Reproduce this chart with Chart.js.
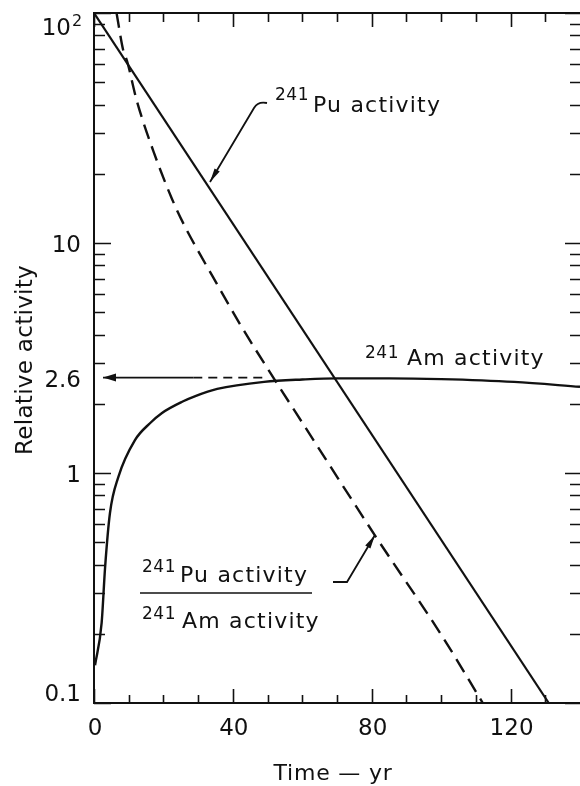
<!DOCTYPE html>
<html>
<head>
<meta charset="utf-8">
<script src="https://cdn.jsdelivr.net/npm/chart.js@4"></script>
<style>
    html,body{margin:0;padding:0;background:#fff;}
    #wrap{width:580px;height:786px;position:relative;}
</style>
</head>
<body>
<div id="wrap"><canvas id="decayChart"></canvas></div>
<script>

// values (time in years, relative activity)
const puYears = [0, 131];
const puActivity = [100, 0.1];

const ratioYears = [6.5, 8.4, 9.5, 12.3, 17.1, 22.5, 26.3, 30.6, 35.5, 42.2, 52.3, 60.4, 81.2, 100.5, 112];
const ratioValues = [100, 69, 62, 41.7, 25.1, 15.5, 11.7, 8.9, 6.6, 4.4, 2.51, 1.62, 0.528, 0.193, 0.1];

const amYears = [0.3, 2.2, 3.2, 4.6, 7, 11.8, 16.2, 19.5, 25.7, 29.2, 35.5, 49, 60, 70, 85, 100, 121, 140];
const amActivity = [0.146, 0.223, 0.39, 0.67, 0.96, 1.39, 1.65, 1.82, 2.05, 2.16, 2.32, 2.49, 2.55, 2.58, 2.58, 2.56, 2.49, 2.37];

const equilibriumLevel = 2.6;
const arrowSolidYears = [2.6, 28.6];
const arrowDashYears = [28.6, 49];

const xMajorTicks = [0, 40, 80, 120];
const xMinorTicks = [10, 20, 30, 50, 60, 70, 90, 100, 110, 130];
const xTickLabels = ["0", "40", "80", "120"];

const yMajorTicks = [0.1, 1, 10, 100];
const yMinorTicks = [0.2, 0.3, 0.4, 0.5, 0.6, 0.7, 0.8, 0.9, 2, 3, 4, 5, 6, 7, 8, 9, 20, 30, 40, 50, 60, 70, 80, 90];
const yLabelValues = [0.1, 1, 2.6, 10, 100];
const yTickLabels = ["0.1", "1", "2.6", "10", "10"];

const INK = "#111";
const FONT = "'DejaVu Sans'";

function toPoints(xs, ys){

    return xs.map((x, i)=>({x:x, y:ys[i]}));

}

function arrowHead(ctx, tipX, tipY, fromX, fromY, len, half){

    const a = Math.atan2(tipY - fromY, tipX - fromX);

    ctx.beginPath();
    ctx.moveTo(tipX, tipY);
    ctx.lineTo(tipX - len*Math.cos(a) + half*Math.sin(a), tipY - len*Math.sin(a) - half*Math.cos(a));
    ctx.lineTo(tipX - len*Math.cos(a) - half*Math.sin(a), tipY - len*Math.sin(a) + half*Math.cos(a));
    ctx.closePath();
    ctx.fill();

}

function isotope(ctx, supX, supY, mainX, mainY, text){

    ctx.textAlign = "left";
    ctx.textBaseline = "alphabetic";
    ctx.letterSpacing = "0.5px";
    ctx.font = "17px " + FONT;
    ctx.fillText("241", supX, supY);
    ctx.letterSpacing = "1.2px";
    ctx.font = "22px " + FONT;
    ctx.fillText(text, mainX, mainY);

}

const framePlugin = {

    id:"frame",

    afterDatasetsDraw(chart){

        const ctx = chart.ctx;
        const area = chart.chartArea;
        const xs = chart.scales.x;
        const ys = chart.scales.y;

        ctx.save();
        ctx.strokeStyle = INK;
        ctx.fillStyle = INK;

        // frame
        ctx.lineWidth = 2;
        ctx.beginPath();
        ctx.moveTo(area.right + 1, area.top);
        ctx.lineTo(area.left, area.top);
        ctx.lineTo(area.left, area.bottom);
        ctx.lineTo(area.right + 1, area.bottom);
        ctx.stroke();

        // inward ticks
        ctx.lineWidth = 1.6;
        ctx.beginPath();

        xMajorTicks.concat(xMinorTicks).forEach(v=>{

            const major = xMajorTicks.includes(v);
            const px = Math.round(xs.getPixelForValue(v)) + 0.5;

            ctx.moveTo(px, area.bottom);
            ctx.lineTo(px, area.bottom - (major ? 14 : 8));
            ctx.moveTo(px, area.top);
            ctx.lineTo(px, area.top + (major ? 14 : 9));

        });

        yMajorTicks.concat(yMinorTicks).forEach(v=>{

            const major = yMajorTicks.includes(v);
            const py = Math.round(ys.getPixelForValue(v)) + 0.5;

            ctx.moveTo(area.left, py);
            ctx.lineTo(area.left + (major ? 17 : 11), py);
            ctx.moveTo(area.right, py);
            ctx.lineTo(area.right - (major ? 15 : 10), py);

        });

        ctx.stroke();

        // tick labels
        ctx.font = "23px " + FONT;
        ctx.textAlign = "center";
        ctx.textBaseline = "top";

        xMajorTicks.forEach((v, i)=>{

            ctx.fillText(xTickLabels[i], xs.getPixelForValue(v) + 1, area.bottom + 15);

        });

        ctx.textAlign = "right";
        ctx.textBaseline = "middle";

        yLabelValues.forEach((v, i)=>{

            let py = ys.getPixelForValue(v) + 3;

            py = Math.max(area.top + 16, Math.min(area.bottom - 8, py));

            if(v === 100){

                ctx.fillText(yTickLabels[i], 71, py);
                ctx.font = "16px " + FONT;
                ctx.textAlign = "left";
                ctx.fillText("2", 72, py - 7);
                ctx.font = "23px " + FONT;
                ctx.textAlign = "right";

            }else{

                ctx.fillText(yTickLabels[i], 81, py);

            }

        });

        // axis titles
        ctx.font = "22px " + FONT;
        ctx.letterSpacing = "0.8px";
        ctx.textAlign = "center";
        ctx.textBaseline = "alphabetic";
        ctx.fillText("Time \u2014 yr", 333, 780);

        ctx.save();
        ctx.translate(32, 360);
        ctx.rotate(-Math.PI/2);
        ctx.font = "23px " + FONT;
        ctx.letterSpacing = "0.3px";
        ctx.fillText("Relative activity", 0, 0);
        ctx.restore();

        // arrow at the 2.6 equilibrium level
        const ax = xs.getPixelForValue(arrowSolidYears[0]);
        const ay = ys.getPixelForValue(equilibriumLevel);
        arrowHead(ctx, ax, ay, ax + 20, ay, 13, 4);

        // curve labels
        isotope(ctx, 275, 100, 313, 112, "Pu activity");
        isotope(ctx, 365, 358, 407, 365, "Am activity");
        isotope(ctx, 142, 572, 180, 582, "Pu activity");
        isotope(ctx, 142, 619, 182, 628, "Am activity");
        ctx.letterSpacing = "0px";

        ctx.lineWidth = 1.6;
        ctx.beginPath();
        ctx.moveTo(140, 593);
        ctx.lineTo(312, 593);
        ctx.stroke();

        // leader to the Pu line
        ctx.lineWidth = 1.8;
        ctx.beginPath();
        ctx.moveTo(267, 103);
        ctx.quadraticCurveTo(258, 101, 254, 108);
        ctx.lineTo(210, 182);
        ctx.stroke();
        arrowHead(ctx, 210, 182, 254, 108, 14, 3);

        // leader to the ratio curve
        ctx.beginPath();
        ctx.moveTo(333, 582);
        ctx.lineTo(347, 582);
        ctx.lineTo(375, 535);
        ctx.stroke();
        arrowHead(ctx, 375, 535, 347, 582, 14, 3);

        ctx.restore();

    }

};

const ctx = document.getElementById("decayChart").getContext("2d");

new Chart(ctx,{

    type:"line",

    data:{

        datasets:[

            {
                data:toPoints(puYears, puActivity),
                borderColor:INK,
                borderWidth:2.2,
                pointRadius:0
            },

            {
                data:toPoints(ratioYears, ratioValues),
                borderColor:INK,
                borderWidth:2.4,
                borderDash:[15, 8],
                cubicInterpolationMode:"monotone",
                pointRadius:0
            },

            {
                data:toPoints(amYears, amActivity),
                borderColor:INK,
                borderWidth:2.4,
                cubicInterpolationMode:"monotone",
                pointRadius:0
            },

            {
                data:toPoints(arrowSolidYears, arrowSolidYears.map(()=>equilibriumLevel)),
                borderColor:INK,
                borderWidth:1.8,
                pointRadius:0
            },

            {
                data:toPoints(arrowDashYears, arrowDashYears.map(()=>equilibriumLevel)),
                borderColor:INK,
                borderWidth:1.8,
                borderDash:[9, 6],
                pointRadius:0
            }

        ]

    },

    options:{

        responsive:true,
        maintainAspectRatio:false,
        animation:false,
        parsing:true,

        layout:{
            padding:{left:94, right:0, top:13, bottom:83}
        },

        scales:{

            x:{
                type:"linear",
                min:0,
                max:140,
                display:false
            },

            y:{
                type:"logarithmic",
                min:0.1,
                max:100,
                display:false
            }

        },

        plugins:{

            legend:{display:false},
            tooltip:{enabled:false}

        }

    },

    plugins:[framePlugin]

});

</script>
</body>
</html>
